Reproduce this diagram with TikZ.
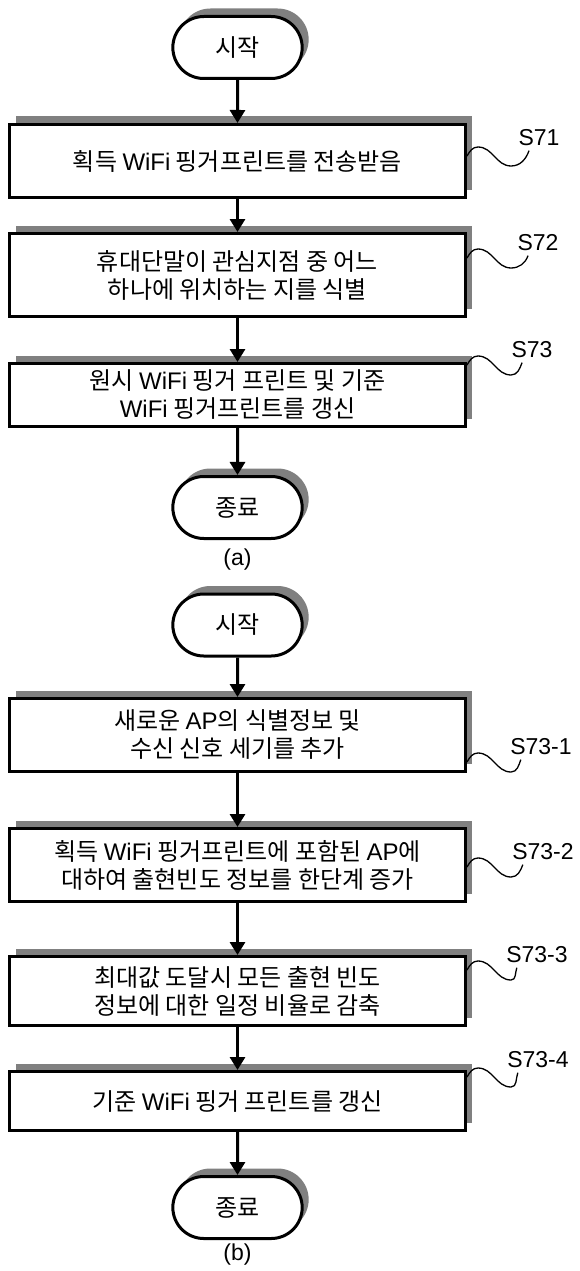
\documentclass[tikz,border=0pt]{standalone}
\usepackage{fontspec}
\setmainfont{Noto Sans CJK KR}
\newfontfamily\latinfont{Liberation Sans}
\usepackage{tikz}
\usetikzlibrary{arrows.meta,shapes.misc,shadows}
\definecolor{shade_gray}{RGB}{128,128,128}

\begin{document}
\begin{tikzpicture}[->,x=1pt,y=1pt,line width=3pt,>={Triangle[length=13pt,width=15pt]}]
    \tikzstyle{boxshadow}=[drop shadow={shadow xshift=6.5pt,shadow yshift=8pt,fill=shade_gray,opacity=1}]
    \tikzstyle{terminal}=[rounded rectangle, draw, fill=white, boxshadow, minimum width=136pt, minimum height=62pt, font=\fontsize{24pt}{28pt}\selectfont]
    \tikzstyle{process}=[rectangle, draw, fill=white, boxshadow, minimum width=456pt, align=center, font=\fontsize{24pt}{28pt}\selectfont]
    \tikzstyle{steplabel}=[inner sep=0pt, font=\latinfont\fontsize{23pt}{27pt}\selectfont]
    \tikzstyle{squiggle}=[-, line width=1.3pt]

    \useasboundingbox (0,0) rectangle (580,-1271);

    % (a)
    \node[terminal] (start_a) at (237.5,-47.5) {시작};
    \node[process, minimum height=73pt] (s71) at (237.5,-161) {획득 {\latinfont WiFi} 핑거프린트를 전송받음};
    \node[process, minimum height=83pt] (s72) at (237.5,-275) {휴대단말이 관심지점 중 어느\\하나에 위치하는 지를 식별};
    \node[process, minimum height=63pt] (s73) at (237.5,-395) {원시 {\latinfont WiFi} 핑거 프린트 및 기준\\{\latinfont WiFi} 핑거프린트를 갱신};
    \node[terminal] (end_a) at (237.5,-507.5) {종료};
    \node[steplabel] (cap_a) at (237.5,-560) {(a)};

    \node[steplabel] (l71) at (539,-138) {S71};
    \node[steplabel] (l72) at (538,-243) {S72};
    \node[steplabel] (l73) at (532,-350) {S73};

    \draw (start_a) -- (s71);
    \draw (s71) -- (s72);
    \draw (s72) -- (s73);
    \draw (s73) -- (end_a);

    \draw[squiggle] ([yshift=5pt]s71.east) to[out=60,in=180] ++(11,9) to[out=0,in=180] ++(33,-19) to[out=0,in=250] ([xshift=12pt,yshift=-3pt]l71.south west);
    \draw[squiggle] ([yshift=17pt]s72.east) to[out=60,in=180] ++(11,9) to[out=0,in=180] ++(33,-19) to[out=0,in=250] ([xshift=12pt,yshift=-3pt]l72.south west);
    \draw[squiggle] ([yshift=30pt]s73.east) to[out=60,in=180] ++(11,9) to[out=0,in=180] ++(33,-19) to[out=0,in=250] ([xshift=12pt,yshift=-3pt]l73.south west);

    % (b)
    \node[terminal] (start_b) at (237.5,-625) {시작};
    \node[process, minimum height=73pt] (s731) at (237.5,-735) {새로운 {\latinfont AP}의 식별정보 및\\수신 신호 세기를 추가};
    \node[process, minimum height=73pt] (s732) at (237.5,-865) {획득 {\latinfont WiFi} 핑거프린트에 포함된 {\latinfont AP}에\\대하여 출현빈도 정보를 한단계 증가};
    \node[process, minimum height=69pt] (s733) at (237.5,-991) {최대값 도달시 모든 출현 빈도\\정보에 대한 일정 비율로 감축};
    \node[process, minimum height=59pt] (s734) at (237.5,-1101) {기준 {\latinfont WiFi} 핑거 프린트를 갱신};
    \node[terminal] (end_b) at (237.5,-1207.5) {종료};
    \node[steplabel] (cap_b) at (237.5,-1255) {(b)};

    \node[steplabel] (l731) at (541,-747) {S73-1};
    \node[steplabel] (l732) at (543,-852) {S73-2};
    \node[steplabel] (l733) at (537,-955) {S73-3};
    \node[steplabel] (l734) at (538,-1060) {S73-4};

    \draw (start_b) -- (s731);
    \draw (s731) -- (s732);
    \draw (s732) -- (s733);
    \draw (s733) -- (s734);
    \draw (s734) -- (end_b);

    \draw[squiggle] ([yshift=-27pt]s731.east) to[out=60,in=180] ++(11,9) to[out=0,in=180] ++(33,-19) to[out=0,in=250] ([xshift=12pt,yshift=-3pt]l731.south west);
    \draw[squiggle] ([yshift=-2pt]s732.east) to[out=60,in=180] ++(11,9) to[out=0,in=180] ++(33,-19) to[out=0,in=250] ([xshift=12pt,yshift=-3pt]l732.south west);
    \draw[squiggle] ([yshift=21pt]s733.east) to[out=60,in=180] ++(11,9) to[out=0,in=180] ++(33,-19) to[out=0,in=250] ([xshift=12pt,yshift=-3pt]l733.south west);
    \draw[squiggle] ([yshift=24pt]s734.east) to[out=60,in=180] ++(11,9) to[out=0,in=180] ++(33,-19) to[out=0,in=250] ([xshift=12pt,yshift=-3pt]l734.south west);
\end{tikzpicture}
\end{document}
